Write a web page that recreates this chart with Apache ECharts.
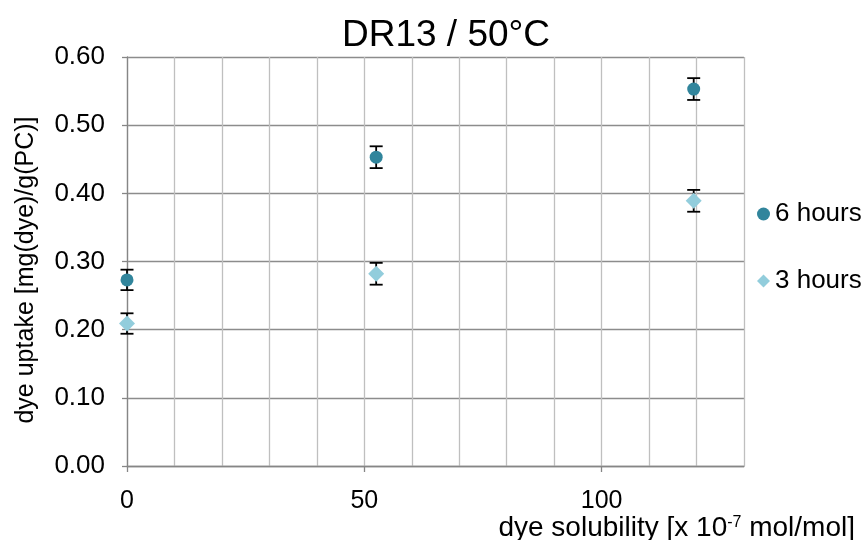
<!DOCTYPE html>
<html>
<head>
<meta charset="utf-8">
<script src="https://cdn.jsdelivr.net/npm/echarts@6/dist/echarts.min.js"></script>
<style>
  html, body { margin: 0; padding: 0; background: #fff; }
  #chart { width: 866px; height: 540px; }
</style>
</head>
<body>
<div id="chart"></div>
<script>
// Dye uptake of DR13 at 50 °C versus dye solubility
const solubility = [0, 52.5, 119.4];            // x 10^-7 mol/mol
const uptake6h   = [0.273, 0.453, 0.553];       // mg(dye)/g(PC)
const error6h    = [0.015, 0.016, 0.016];
const uptake3h   = [0.209, 0.282, 0.389];
const error3h    = [0.015, 0.016, 0.016];
const xTickValues = [0, 50, 100];

const FONT = '"Liberation Sans", Arial, sans-serif';
const AXIS_GRAY = '#868686';
const LABEL_SIZE = 25;

function points(ys) { return solubility.map((x, i) => [x, ys[i]]); }
function errPoints(ys, es) { return solubility.map((x, i) => [x, ys[i], es[i]]); }

// vertical error bar with short caps
function renderErr(params, api) {
  const x = api.value(0), y = api.value(1), e = api.value(2);
  const top = api.coord([x, y + e]);
  const bot = api.coord([x, y - e]);
  const hw = 6.5;
  const style = { stroke: '#000', lineWidth: 1.8 };
  return {
    type: 'group',
    children: [
      { type: 'line', shape: { x1: top[0], y1: top[1], x2: bot[0], y2: bot[1] }, style },
      { type: 'line', shape: { x1: top[0] - hw, y1: top[1], x2: top[0] + hw, y2: top[1] }, style },
      { type: 'line', shape: { x1: bot[0] - hw, y1: bot[1], x2: bot[0] + hw, y2: bot[1] }, style }
    ]
  };
}

const chart = echarts.init(document.getElementById('chart'), null, { renderer: 'canvas' });

chart.setOption({
  animation: false,
  backgroundColor: '#fff',
  textStyle: { fontFamily: FONT },
  title: [
    {
      text: 'DR13 / 50°C',
      left: 441,
      textAlign: 'center',
      top: 12,
      textStyle: { fontFamily: FONT, fontSize: 37, fontWeight: 'normal', color: '#000' }
    },
    {
      text: '{n|dye solubility [x 10}{s|-7}{n| mol/mol]}',
      right: 6,
      top: 509,
      textStyle: {
        fontWeight: 'normal',
        rich: {
          n: { fontFamily: FONT, fontSize: 28, fontWeight: 'normal', color: '#000', lineHeight: 28 },
          s: { fontFamily: FONT, fontSize: 16, fontWeight: 'normal', color: '#000', lineHeight: 28, verticalAlign: 'top', padding: [1, 0, 0, 0] }
        }
      }
    }
  ],
  legend: {
    orient: 'vertical',
    left: 752,
    top: 196,
    itemWidth: 13,
    itemHeight: 13,
    itemGap: 41,
    textStyle: { fontFamily: FONT, fontSize: 26, color: '#000' },
    data: [
      { name: '6 hours', icon: 'circle' },
      { name: '3 hours', icon: 'diamond' }
    ]
  },
  grid: { left: 127, right: 122, top: 57, bottom: 74, containLabel: false },
  xAxis: [
    {
      // gridlines every 10 units
      type: 'value',
      min: 0,
      max: 130,
      interval: 10,
      axisLine: { show: false },
      axisTick: { show: false },
      axisLabel: { show: false },
      splitLine: { show: true, lineStyle: { color: '#BFBFBF', width: 1.3 } }
    },
    {
      // labelled axis with ticks at 0, 50, 100
      type: 'value',
      position: 'bottom',
      min: 0,
      max: 130,
      interval: 50,
      axisLine: { show: true, onZero: false, lineStyle: { color: AXIS_GRAY, width: 1.3 } },
      axisTick: { show: true, length: 6, customValues: xTickValues, lineStyle: { color: AXIS_GRAY, width: 1.3 } },
      axisLabel: { customValues: xTickValues, margin: 23, fontFamily: FONT, fontSize: LABEL_SIZE, color: '#000' },
      splitLine: { show: false }
    }
  ],
  yAxis: {
    type: 'value',
    min: 0,
    max: 0.6,
    interval: 0.1,
    name: 'dye uptake [mg(dye)/g(PC)]',
    nameLocation: 'middle',
    nameRotate: 90,
    nameGap: 88,
    nameTextStyle: { fontFamily: FONT, fontSize: LABEL_SIZE, color: '#000', padding: [0, 17, 0, 0] },
    axisLine: { show: true, lineStyle: { color: AXIS_GRAY, width: 1.3 } },
    axisTick: { show: true, length: 5, lineStyle: { color: AXIS_GRAY, width: 1.3 } },
    axisLabel: { margin: 22, fontFamily: FONT, fontSize: 26, color: '#000', formatter: v => v.toFixed(2) },
    splitLine: { show: true, lineStyle: { color: '#8C8C8C', width: 1.3 } }
  },
  series: [
    {
      type: 'custom',
      name: 'err6',
      renderItem: renderErr,
      encode: { x: 0, y: 1 },
      data: errPoints(uptake6h, error6h),
      z: 3,
      silent: true
    },
    {
      type: 'custom',
      name: 'err3',
      renderItem: renderErr,
      encode: { x: 0, y: 1 },
      data: errPoints(uptake3h, error3h),
      z: 3,
      silent: true
    },
    {
      name: '6 hours',
      type: 'scatter',
      symbol: 'circle',
      symbolSize: 13,
      itemStyle: { color: '#31859C', opacity: 1 },
      data: points(uptake6h),
      z: 5
    },
    {
      name: '3 hours',
      type: 'scatter',
      symbol: 'diamond',
      symbolSize: 16,
      itemStyle: { color: '#92CDDC', opacity: 1 },
      data: points(uptake3h),
      z: 5
    }
  ]
});
</script>
</body>
</html>
